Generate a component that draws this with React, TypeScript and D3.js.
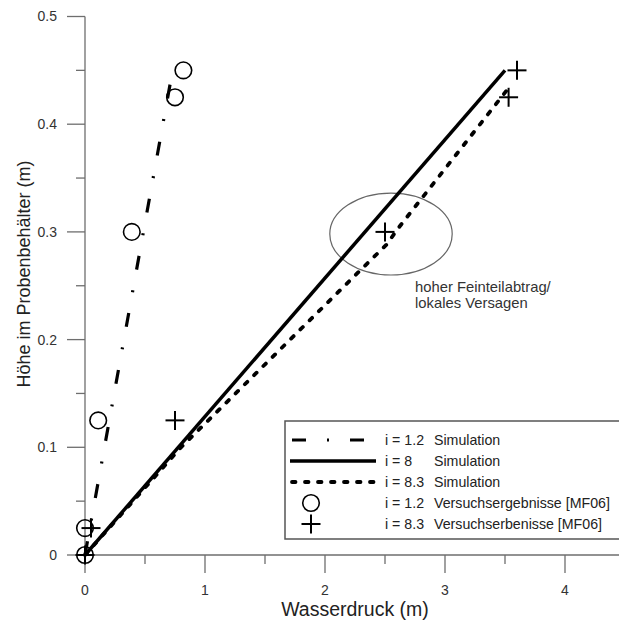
import React from "react";
import * as d3 from "d3";

// simulated curves (Wasserdruck m, Höhe m)
const simI12: [number, number][] = [[0, 0], [0.73, 0.45]];
const simI8: [number, number][] = [[0, 0], [3.5, 0.45]];
const simI83: [number, number][] = [
  [0, 0], [0.8, 0.1], [2.3, 0.265], [2.52, 0.289], [2.6, 0.302], [3.54, 0.435],
];

// measured points
const circX = [0, 0, 0.11, 0.39, 0.75, 0.82];
const circY = [0, 0.025, 0.125, 0.3, 0.425, 0.45];
const plusX = [0, 0.05, 0.75, 2.5, 3.53, 3.6];
const plusY = [0, 0.025, 0.125, 0.3, 0.425, 0.45];

const xMajor = [0, 1, 2, 3, 4];
const xMinor = [0.5, 1.5, 2.5, 3.5, 4.5];
const yMajor = [0, 0.1, 0.2, 0.3, 0.4, 0.5];
const yMinor = [0.05, 0.15, 0.25, 0.35, 0.45];

const legendLabels = ["i = 1.2", "i = 8", "i = 8.3", "i = 1.2", "i = 8.3"];
const legendTexts = [
  "Simulation", "Simulation", "Simulation",
  "Versuchsergebnisse [MF06]", "Versuchserbenisse [MF06]",
];

const W = 619;
const H = 622;
const FONT = "'Liberation Sans', Arial, sans-serif";
const AXIS = "#6e6e6e";

const dashDot = "14 21 2 21";
const dotted = "3.5 9.5";

export default function App() {
  const x = d3.scaleLinear().domain([0, 4.5]).range([85, 625]);
  const y = d3.scaleLinear().domain([0, 0.5]).range([555, 16.5]);

  const line = d3.line<[number, number]>()
    .x(d => x(d[0]))
    .y(d => y(d[1]));

  const plus = (cx: number, cy: number, s: number, key: string) => (
    <g key={key} stroke="#000" strokeWidth={2}>
      <line x1={cx - s} x2={cx + s} y1={cy} y2={cy} />
      <line x1={cx} x2={cx} y1={cy - s} y2={cy + s} />
    </g>
  );

  const rowY = (i: number) => 440 + i * 21;

  return (
    <svg width={W} height={H} style={{ position: "absolute", left: 0, top: 0, background: "#fff" }}
      fontFamily={FONT}>
      {/* axes */}
      <g stroke={AXIS} strokeWidth={1.3}>
        <line x1={x(0)} x2={x(4.5)} y1={y(0)} y2={y(0)} />
        <line x1={x(0)} x2={x(0)} y1={y(0)} y2={y(0.5)} />
        {xMajor.map(v => <line key={"xm" + v} x1={x(v)} x2={x(v)} y1={y(0)} y2={y(0) + 18} />)}
        {xMinor.map(v => <line key={"xn" + v} x1={x(v)} x2={x(v)} y1={y(0)} y2={y(0) + 9} />)}
        {yMajor.map(v => <line key={"ym" + v} x1={x(0) - 18} x2={x(0)} y1={y(v)} y2={y(v)} />)}
        {yMinor.map(v => <line key={"yn" + v} x1={x(0) - 9} x2={x(0)} y1={y(v)} y2={y(v)} />)}
      </g>
      <g fill="#333" fontSize={14}>
        {xMajor.map(v => (
          <text key={"xl" + v} x={x(v)} y={595} textAnchor="middle">{d3.format("")(v)}</text>
        ))}
        {yMajor.map(v => (
          <text key={"yl" + v} x={57} y={y(v)} dy="0.35em" textAnchor="end">{d3.format("")(v)}</text>
        ))}
      </g>
      <text x={355} y={616} textAnchor="middle" fontSize={19.5} fill="#222">Wasserdruck (m)</text>
      <text transform={`translate(30,274) rotate(-90)`} textAnchor="middle" fontSize={18} fill="#222">
        Höhe im Probenbehälter (m)
      </text>

      {/* annotation ellipse */}
      <ellipse cx={x(2.55)} cy={y(0.298)} rx={x(2.55) - x(2.04)} ry={y(0.26) - y(0.298)}
        fill="none" stroke="#666" strokeWidth={1.2} />
      <text x={415} y={292} fontSize={14.8} fill="#333">hoher Feinteilabtrag/</text>
      <text x={415} y={308} fontSize={14.8} fill="#333">lokales Versagen</text>

      {/* simulation lines */}
      <path d={line(simI12) ?? ""} fill="none" stroke="#000" strokeWidth={3.2} strokeDasharray={dashDot} />
      <path d={line(simI8) ?? ""} fill="none" stroke="#000" strokeWidth={3.5} />
      <path d={line(simI83) ?? ""} fill="none" stroke="#000" strokeWidth={3.8}
        strokeDasharray={dotted} strokeLinecap="round" />

      {/* measured points */}
      {circX.map((v, i) => (
        <circle key={"c" + i} cx={x(v)} cy={y(circY[i])} r={8.3} fill="none" stroke="#000" strokeWidth={1.6} />
      ))}
      {plusX.map((v, i) => plus(x(v), y(plusY[i]), 9.5, "p" + i))}

      {/* legend */}
      <rect x={285} y={421} width={360} height={118} fill="#fff" stroke="#555" strokeWidth={1.5} />
      <line x1={292} x2={376} y1={rowY(0)} y2={rowY(0)} stroke="#000" strokeWidth={3.2} strokeDasharray={dashDot} />
      <line x1={290} x2={376} y1={rowY(1)} y2={rowY(1)} stroke="#000" strokeWidth={3.5} />
      <line x1={292} x2={376} y1={rowY(2)} y2={rowY(2)} stroke="#000" strokeWidth={3.8}
        strokeDasharray={dotted} strokeLinecap="round" />
      <circle cx={311} cy={rowY(3)} r={8.3} fill="none" stroke="#000" strokeWidth={1.6} />
      {plus(311, rowY(4), 9.5, "lp")}
      <g fontSize={14.2} fill="#222">
        {legendLabels.map((t, i) => (
          <text key={"ll" + i} x={385} y={rowY(i) + 5}>{t}</text>
        ))}
        {legendTexts.map((t, i) => (
          <text key={"lt" + i} x={434} y={rowY(i) + 5}>{t}</text>
        ))}
      </g>
    </svg>
  );
}
